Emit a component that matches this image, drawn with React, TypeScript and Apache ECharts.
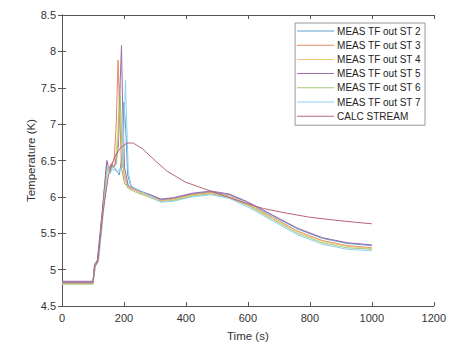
import React, { useEffect, useRef } from "react";
import * as echarts from "echarts";

const xTicks = [0, 200, 400, 600, 800, 1000, 1200];
const yTicks = [4.5, 5, 5.5, 6, 6.5, 7, 7.5, 8, 8.5];

const seriesNames = [
  "MEAS TF out ST 2",
  "MEAS TF out ST 3",
  "MEAS TF out ST 4",
  "MEAS TF out ST 5",
  "MEAS TF out ST 6",
  "MEAS TF out ST 7",
  "CALC STREAM",
];
const seriesColors = ["#5a9fd0", "#e08a5e", "#f0c870", "#9d6aa8", "#a4c878", "#8dd3f0", "#b86478"];

const st2: [number, number][] = [
  [0, 4.83], [100, 4.83], [105, 5.05], [115, 5.12], [130, 5.75], [145, 6.45], [152, 6.35], [160, 6.42], [170, 6.4], [185, 6.3], [195, 6.6], [200, 7.3], [206, 6.9], [212, 6.3], [222, 6.15], [250, 6.08], [290, 6.02], [320, 5.96], [360, 5.98], [420, 6.04], [480, 6.07], [540, 6.03], [600, 5.92], [680, 5.74], [760, 5.56], [840, 5.43], [920, 5.36], [1000, 5.33],
];
const st3: [number, number][] = [
  [0, 4.82], [100, 4.82], [106, 5.06], [115, 5.12], [130, 5.78], [144, 6.48], [150, 6.36], [158, 6.45], [168, 6.5], [175, 7.0], [181, 7.88], [186, 7.2], [192, 6.4], [202, 6.18], [220, 6.12], [250, 6.06], [290, 6.0], [320, 5.95], [360, 5.97], [420, 6.03], [480, 6.06], [540, 6.01], [600, 5.9], [680, 5.72], [760, 5.53], [840, 5.4], [920, 5.33], [1000, 5.3],
];
const st4: [number, number][] = [
  [0, 4.81], [100, 4.81], [106, 5.05], [116, 5.13], [131, 5.8], [146, 6.46], [153, 6.34], [160, 6.42], [172, 6.45], [180, 6.9], [186, 7.55], [191, 7.0], [200, 6.35], [212, 6.15], [240, 6.08], [280, 6.01], [320, 5.94], [360, 5.96], [420, 6.02], [480, 6.05], [540, 6.0], [600, 5.89], [680, 5.7], [760, 5.52], [840, 5.39], [920, 5.32], [1000, 5.29],
];
const st5: [number, number][] = [
  [0, 4.84], [100, 4.84], [105, 5.07], [114, 5.13], [129, 5.76], [145, 6.5], [151, 6.38], [159, 6.44], [170, 6.42], [182, 6.7], [188, 7.6], [192, 8.08], [196, 7.2], [202, 6.4], [214, 6.15], [245, 6.09], [285, 6.03], [320, 5.97], [360, 5.99], [420, 6.05], [480, 6.08], [540, 6.04], [600, 5.93], [680, 5.75], [760, 5.57], [840, 5.44], [920, 5.37], [1000, 5.34],
];
const st6: [number, number][] = [
  [0, 4.8], [100, 4.8], [107, 5.04], [117, 5.11], [132, 5.77], [147, 6.44], [154, 6.33], [162, 6.4], [176, 6.45], [184, 7.0], [188, 7.4], [193, 6.7], [200, 6.3], [212, 6.12], [240, 6.06], [280, 6.0], [320, 5.93], [360, 5.95], [420, 6.01], [480, 6.04], [540, 5.99], [600, 5.88], [680, 5.69], [760, 5.5], [840, 5.37], [920, 5.3], [1000, 5.28],
];
const st7: [number, number][] = [
  [0, 4.82], [100, 4.82], [108, 5.05], [118, 5.12], [133, 5.76], [148, 6.43], [155, 6.32], [163, 6.38], [180, 6.35], [195, 6.4], [201, 7.1], [205, 7.6], [209, 7.0], [214, 6.35], [224, 6.14], [256, 6.08], [290, 5.99], [320, 5.93], [360, 5.94], [420, 6.0], [480, 6.03], [540, 5.98], [600, 5.86], [680, 5.67], [760, 5.48], [840, 5.35], [920, 5.28], [1000, 5.26],
];
const calc: [number, number][] = [
  [0, 4.82], [100, 4.82], [106, 5.04], [116, 5.12], [132, 5.78], [150, 6.3], [170, 6.55], [190, 6.68], [210, 6.74], [230, 6.74], [260, 6.66], [300, 6.5], [340, 6.35], [400, 6.2], [460, 6.11], [520, 6.02], [580, 5.93], [650, 5.84], [720, 5.78], [800, 5.72], [880, 5.68], [950, 5.65], [1000, 5.63],
];

const seriesData = [st2, st3, st4, st5, st6, st7, calc];

export default function App() {
  const ref = useRef<HTMLDivElement>(null);
  useEffect(() => {
    if (!ref.current) return;
    const chart = echarts.init(ref.current, undefined, { renderer: "svg" });
    const axisColor = "#555";
    const font = "Liberation Sans, Arial, sans-serif";
    const labelStyle = { color: "#333", fontSize: 11, fontFamily: font };
    chart.setOption({
      animation: false,
      backgroundColor: "#fff",
      grid: { left: 62, right: 14, top: 15, bottom: 39 },
      legend: {
        data: seriesNames,
        orient: "vertical",
        right: 24,
        top: 23,
        backgroundColor: "#fff",
        borderColor: "#999",
        borderWidth: 1,
        borderRadius: 0,
        padding: [2, 4, 3, 2],
        icon: "rect",
        itemWidth: 37,
        itemHeight: 1,
        itemGap: 2.2,
        textStyle: { color: "#222", fontSize: 10, lineHeight: 12, fontFamily: font, padding: [0, 0, 0, -2] },
      },
      xAxis: [
        {
          type: "value",
          min: 0,
          max: 1200,
          interval: 200,
          name: "Time (s)",
          nameLocation: "middle",
          nameGap: 24,
          nameMoveOverlap: false,
          nameTextStyle: { ...labelStyle, fontSize: 11.5 },
          axisLine: { lineStyle: { color: axisColor, width: 1 } },
          axisTick: { inside: true, length: 4, lineStyle: { color: axisColor } },
          axisLabel: { ...labelStyle, margin: 6, formatter: (v: number) => (xTicks.includes(v) ? String(v) : "") },
          splitLine: { show: false },
        },
        {
          type: "value",
          position: "top",
          min: 0,
          max: 1200,
          interval: 200,
          axisLine: { show: true, lineStyle: { color: axisColor, width: 1 } },
          axisTick: { inside: true, length: 4, lineStyle: { color: axisColor } },
          axisLabel: { show: false },
          splitLine: { show: false },
        },
      ],
      yAxis: [
        {
          type: "value",
          min: 4.5,
          max: 8.5,
          interval: 0.5,
          name: "Temperature (K)",
          nameLocation: "middle",
          nameGap: 25,
          nameMoveOverlap: false,
          nameTextStyle: { ...labelStyle, fontSize: 11.5 },
          axisLine: { show: true, lineStyle: { color: axisColor, width: 1 } },
          axisTick: { show: true, inside: true, length: 4, lineStyle: { color: axisColor } },
          axisLabel: { ...labelStyle, margin: 6, formatter: (v: number) => (yTicks.includes(v) ? String(v) : "") },
          splitLine: { show: false },
        },
        {
          type: "value",
          position: "right",
          min: 4.5,
          max: 8.5,
          interval: 0.5,
          axisLine: { show: true, lineStyle: { color: axisColor, width: 1 } },
          axisTick: { show: true, inside: true, length: 4, lineStyle: { color: axisColor } },
          axisLabel: { show: false },
          splitLine: { show: false },
        },
      ],
      series: seriesNames.map((name, i) => ({
        name,
        type: "line",
        data: seriesData[i],
        showSymbol: false,
        symbol: "none",
        lineStyle: { width: 1, color: seriesColors[i] },
        itemStyle: { color: seriesColors[i] },
        z: i === 6 ? 3 : 2,
      })),
    });
    return () => chart.dispose();
  }, []);
  return <div ref={ref} style={{ position: "absolute", left: 0, top: 0, width: 449, height: 347 }} />;
}
